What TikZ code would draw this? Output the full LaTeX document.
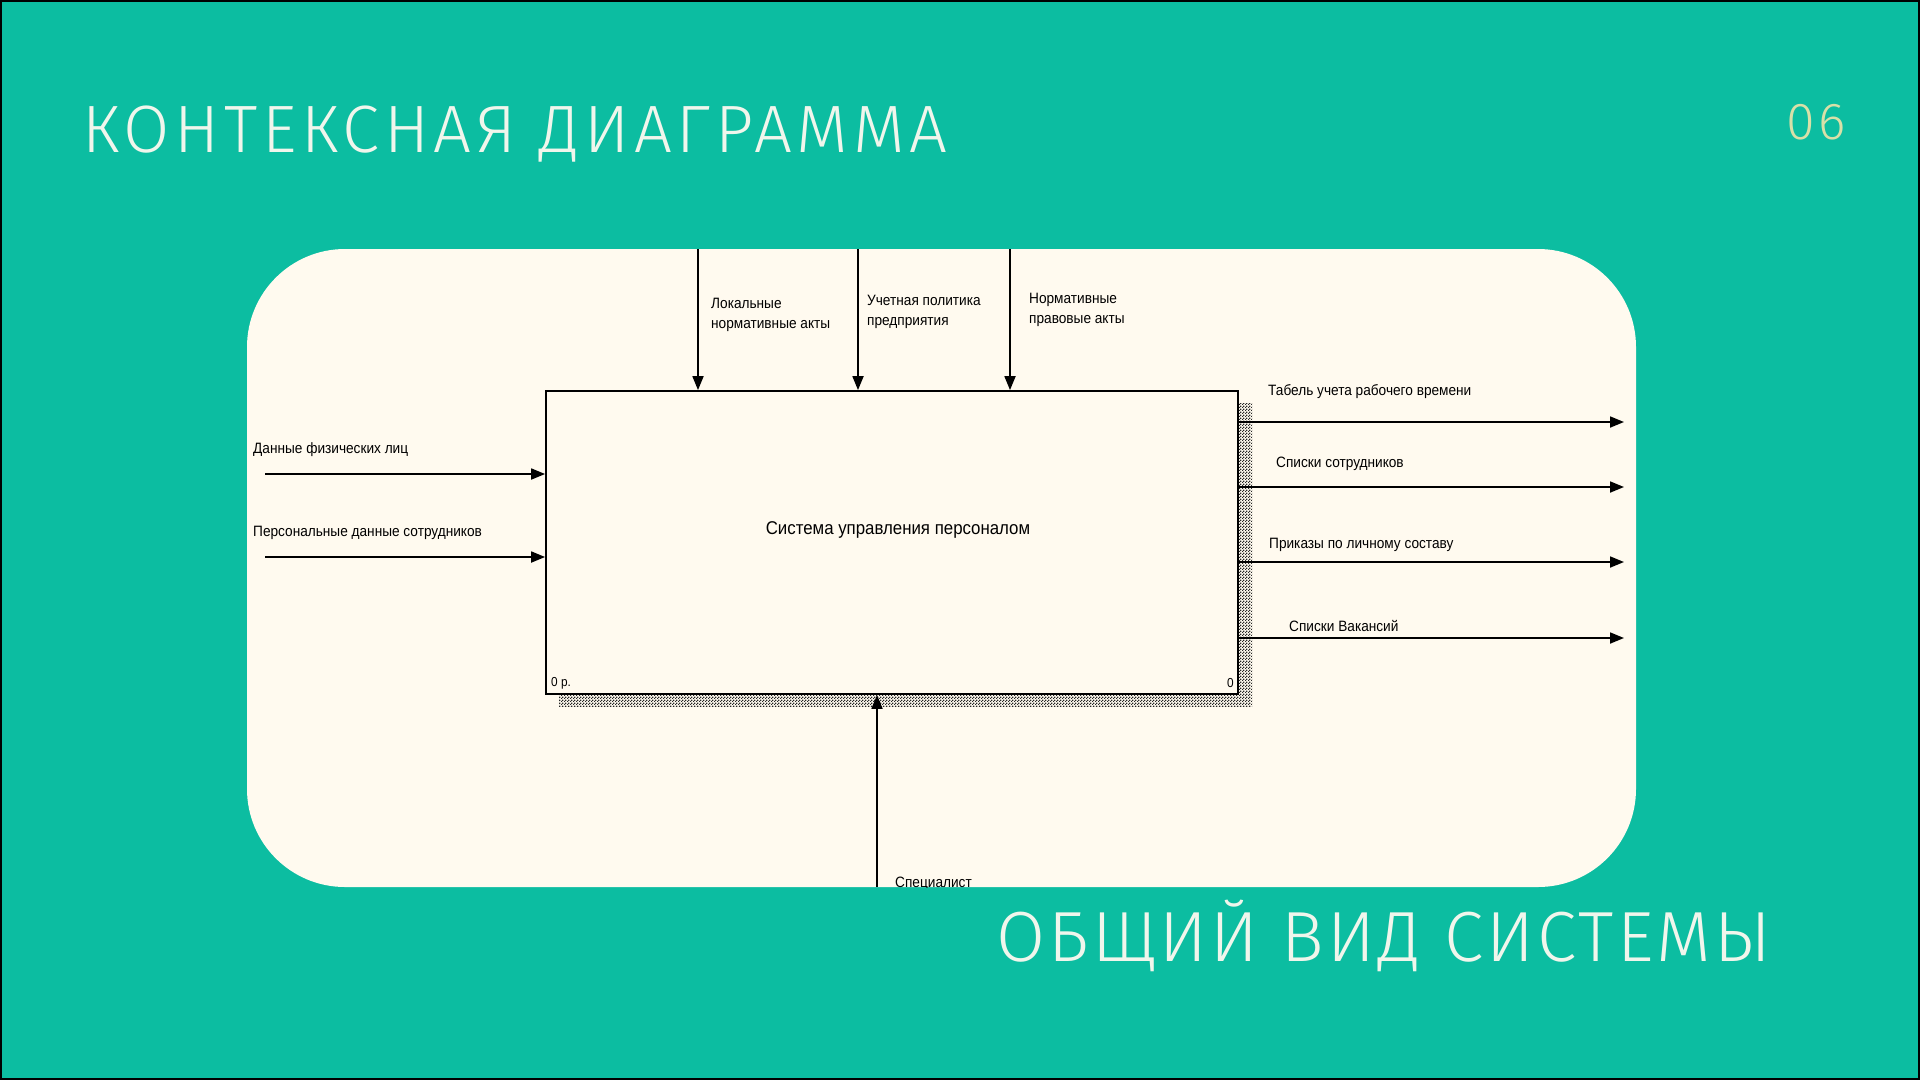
\documentclass[tikz,border=0pt]{standalone}
\usepackage{fontspec}
\setmainfont{Liberation Sans}[FakeStretch=0.91]
\newfontfamily\slidefont{Fira Sans Light}[LetterSpace=7]
\newfontfamily\subfont{Fira Sans Light}[LetterSpace=4.5]
\usepackage{xcolor}
\usetikzlibrary{arrows.meta,positioning,calc,patterns.meta}
\definecolor{slideteal}{RGB}{12,189,161}
\definecolor{panelcream}{RGB}{255,250,239}
\definecolor{titlewhite}{RGB}{240,246,236}
\definecolor{pagenum}{RGB}{216,224,168}

\tikzdeclarepattern{
  name=idefdots,
  type=uncolored,
  bottom left={(0pt,0pt)},
  top right={(3pt,3pt)},
  tile size={(3pt,3pt)},
  code={
    \fill (0pt,0pt) rectangle (1.5pt,1.5pt);
    \fill (1.5pt,1.5pt) rectangle (3pt,3pt);
  }
}

\begin{document}
\begin{tikzpicture}[
  x=1pt,y=-1pt,
  panel/.style={fill=panelcream,rounded corners=98pt},
  func/.style={draw,line width=1.8pt,fill=panelcream,minimum width=692pt,minimum height=303pt,inner sep=0pt},
  shade/.style={pattern=idefdots,pattern color=black!85},
  lbl/.style={anchor=west,inner sep=0pt,align=left,font=\fontsize{15}{20.5}\selectfont},
  arr/.style={-{Triangle[length=14pt,width=11pt]},line width=1.8pt},
  heading/.style={anchor=base west,inner sep=0pt,text=titlewhite,font=\slidefont\fontsize{67}{70}\selectfont}
]
\useasboundingbox (0,0) rectangle (1920,1080);
\fill[slideteal] (0,0) rectangle (1920,1080);
\draw[line width=2pt] (1,1) rectangle (1919,1079);

\node[heading] (title) at (82,152) {КОНТЕКСНАЯ ДИАГРАММА};
\node[heading,text=pagenum,font=\slidefont\fontsize{52}{56}\selectfont] (num) at (1786,139) {06};
\node[heading,font=\subfont\fontsize{71}{74}\selectfont] (subtitle) at (996,961) {ОБЩИЙ ВИД СИСТЕМЫ};

\fill[panel] (247,249) rectangle (1636,887);

\begin{scope}
\clip[rounded corners=98pt] (247,249) rectangle (1636,887);
\fill[shade] (559,403) rectangle (1252,706);
\node[func] (sys) at (892,542.5) {};
\node[font=\fontsize{18.5}{22}\selectfont] (systxt) at (898,530) {Система управления персоналом};
\node[lbl,font=\fontsize{13}{15}\selectfont] (nodenum) at (551,683) {0 р.};
\node[lbl,anchor=east,font=\fontsize{13}{15}\selectfont] (cnum) at (1234,683) {0};

% controls
\coordinate (c1) at (698,249);
\coordinate (c2) at (858,249);
\coordinate (c3) at (1010,249);
\draw[arr] (c1) -- (c1 |- sys.north);
\draw[arr] (c2) -- (c2 |- sys.north);
\draw[arr] (c3) -- (c3 |- sys.north);
\node[lbl] (c1txt) at (711,315) {Локальные\\нормативные акты};
\node[lbl] (c2txt) at (867,312) {Учетная политика\\предприятия};
\node[lbl] (c3txt) at (1029,310) {Нормативные\\правовые акты};

% inputs
\coordinate (i1) at (265,474);
\coordinate (i2) at (265,557);
\draw[arr] (i1) -- (i1 -| sys.west);
\draw[arr] (i2) -- (i2 -| sys.west);
\node[lbl] (i1txt) at (253,450) {Данные физических лиц};
\node[lbl] (i2txt) at (253,533) {Персональные данные сотрудников};

% outputs
\coordinate (o1) at (1624,422);
\coordinate (o2) at (1624,487);
\coordinate (o3) at (1624,562);
\coordinate (o4) at (1624,638);
\draw[arr] (o1 -| sys.east) -- (o1);
\draw[arr] (o2 -| sys.east) -- (o2);
\draw[arr] (o3 -| sys.east) -- (o3);
\draw[arr] (o4 -| sys.east) -- (o4);
\node[lbl] (o1txt) at (1268,392) {Табель учета рабочего времени};
\node[lbl] (o2txt) at (1276,464) {Списки сотрудников};
\node[lbl] (o3txt) at (1269,545) {Приказы по личному составу};
\node[lbl] (o4txt) at (1289,626) {Списки Вакансий};

% mechanism
\coordinate (m1) at (877,887);
\draw[arr] (m1) -- (m1 |- sys.south);
\node[lbl,anchor=north west] (m1txt) at (895,877) {Специалист};
\end{scope}
\end{tikzpicture}
\end{document}
